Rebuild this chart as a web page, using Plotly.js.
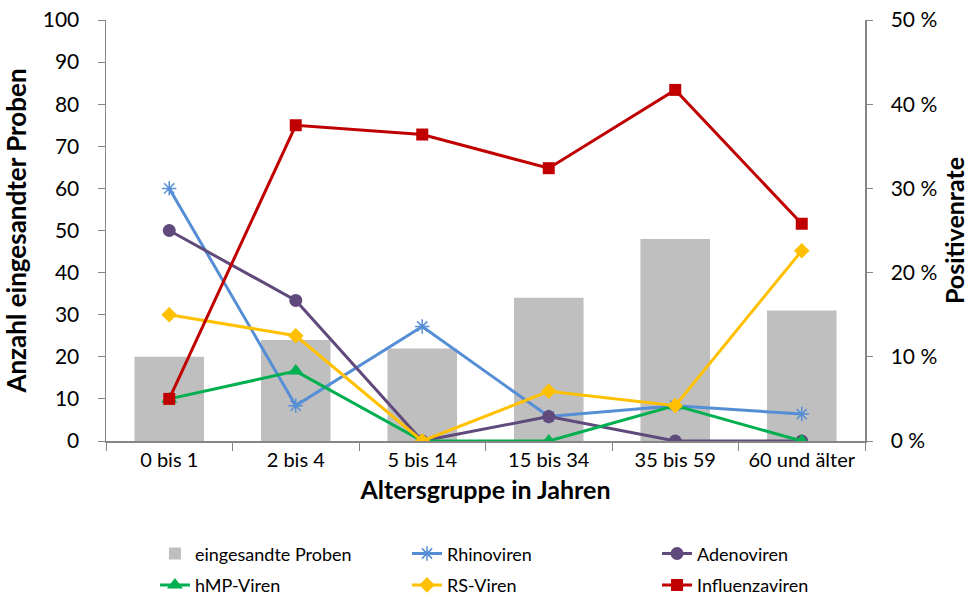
<!DOCTYPE html>
<html><head><meta charset="utf-8">
<script src="https://cdn.plot.ly/plotly-3.0.1.min.js"></script>
<style>body{margin:0;background:#fff}#c{width:978px;height:597px}</style>
</head><body><div id="c"></div>
<script>
const categories = ["0 bis 1","2 bis 4","5 bis 14","15 bis 34","35 bis 59","60 und älter"];
const proben = [20, 24, 22, 34, 48, 31];
const rhino = [30.0, 4.2, 13.6, 2.9, 4.2, 3.2];
const adeno = [25.0, 16.7, 0, 2.9, 0, 0];
const hmp = [5.0, 8.3, 0, 0, 4.2, 0];
const rs = [15.0, 12.5, 0, 5.9, 4.2, 22.6];
const influenza = [5.0, 37.5, 36.4, 32.4, 41.7, 25.8];
const leftTicks = [0,10,20,30,40,50,60,70,80,90,100];
const rightTicks = [0,10,20,30,40,50];

const font = "Lato, 'Open Sans', sans-serif";
function line(name, y, color, symbol, size, legend, group){
  return {type:'scatter', mode:'lines+markers', name, x:categories, y, yaxis:'y2', legend, legendgroup:group,
    line:{color, width:3}, marker:{color, symbol, size, line:{color, width:symbol.indexOf('open')>=0?1.5:0}}};
}
const data = [
  {type:'bar', name:'eingesandte Proben', x:categories, y:proben, marker:{color:'#BFBFBF'}, width:0.55, legend:'legend', legendgroup:'a'},
  line('Rhinoviren', rhino, '#558ED5', 'asterisk-open', 12, 'legend2', 'b'),
  line('Adenoviren', adeno, '#604A7B', 'circle', 13, 'legend3', 'c'),
  line('hMP-Viren', hmp, '#00B050', 'triangle-up', 14, 'legend', 'd'),
  line('RS-Viren', rs, '#FFC000', 'diamond', 12, 'legend2', 'e'),
  line('Influenzaviren', influenza, '#C00000', 'square', 12, 'legend3', 'f')
];
const legBase = {orientation:'v', yanchor:'top', y:-0.224, xanchor:'left', font:{family:font, size:18, color:'#000'}, tracegroupgap:5, bgcolor:'rgba(0,0,0,0)', itemwidth:30};
const layout = {
  width:978, height:597, margin:{l:106, r:113, t:20, b:156, autoexpand:false},
  paper_bgcolor:'#fff', plot_bgcolor:'#fff', font:{family:font, color:'#000'},
  xaxis:{type:'category', tickson:'boundaries', ticks:'outside', ticklen:8, tickcolor:'#868686',
    showline:true, linecolor:'#868686', linewidth:1.5, showgrid:false, automargin:false,
    tickfont:{size:20, family:font}, title:{text:'<b>Altersgruppe in Jahren</b>', font:{size:25, family:font}, standoff:12}},
  yaxis:{range:[0,100], tickvals:leftTicks, ticktext:leftTicks.map(String), ticks:'outside', ticklen:7, tickcolor:'#868686',
    showline:true, linecolor:'#868686', linewidth:1.5, showgrid:false, zeroline:false, automargin:false,
    tickfont:{size:21, family:font}, ticklabelstandoff:14,
    title:{text:'<b>Anzahl eingesandter Proben</b>', font:{size:26, family:font}, standoff:8}},
  yaxis2:{range:[0,50], tickvals:rightTicks, ticktext:rightTicks.map(v => v + ' %'), overlaying:'y', side:'right',
    ticks:'outside', ticklen:6, tickcolor:'#868686', showline:true, linecolor:'#868686', linewidth:1.5,
    showgrid:false, zeroline:false, automargin:false, tickfont:{size:21, family:font}, ticklabelstandoff:14,
    title:{text:'<b>Positivenrate</b>', font:{size:25, family:font}, standoff:10}},
  legend:Object.assign({}, legBase, {x:0.0645}),
  legend2:Object.assign({}, legBase, {x:0.3966}),
  legend3:Object.assign({}, legBase, {x:0.726}),
  showlegend:true
};
Plotly.newPlot('c', data, layout, {displayModeBar:false, staticPlot:true});
</script></body></html>
